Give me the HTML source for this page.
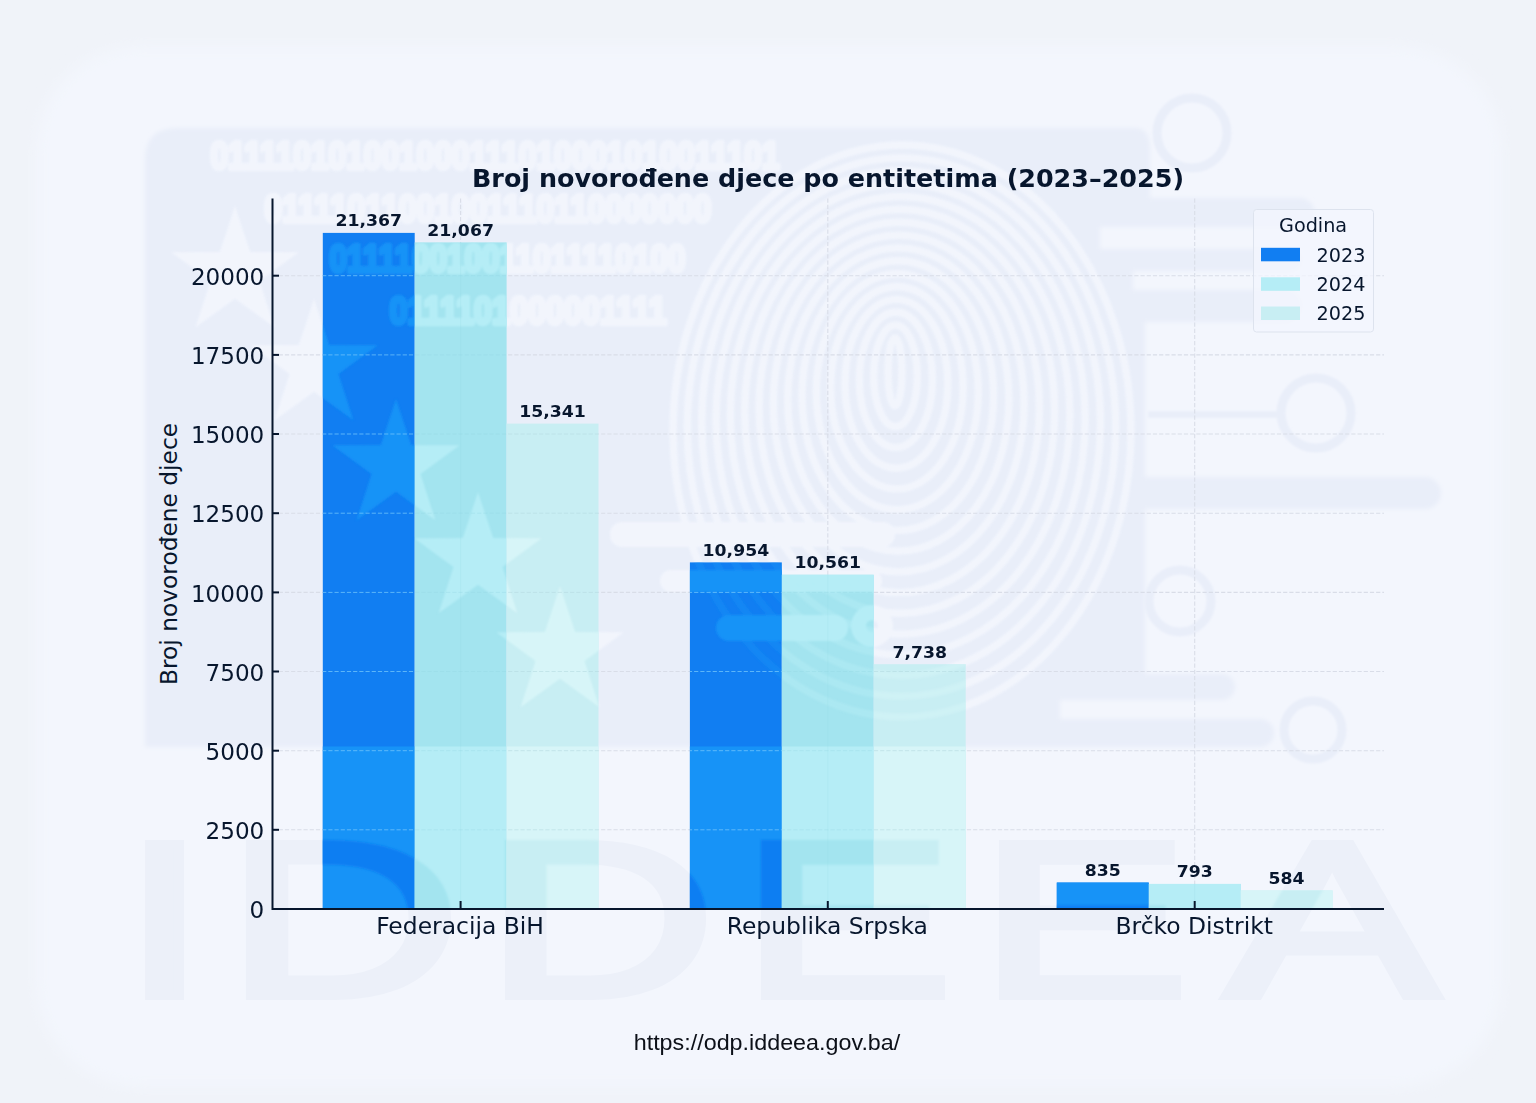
<!DOCTYPE html>
<html lang="bs"><head><meta charset="utf-8"><title>Broj novorođene djece po entitetima</title>
<style>
html,body{margin:0;padding:0;background:#f0f3f9;}
body{width:1536px;height:1103px;overflow:hidden;}
svg{display:block}
text{font-family:"DejaVu Sans","Liberation Sans",sans-serif;fill:#07162d}
.b{font-weight:bold}
.url{font-family:"Liberation Sans",sans-serif;fill:#0c1018}
.bin text{font-family:"Liberation Sans",sans-serif;font-weight:bold;fill:inherit;stroke:inherit;stroke-width:4.6;stroke-linejoin:round}
.wm text{font-family:"Liberation Sans",sans-serif;fill:inherit;stroke:inherit}
</style></head><body>
<svg width="1536" height="1103" viewBox="0 0 1536 1103">
<defs>
<filter id="blur1" x="-5%" y="-5%" width="110%" height="110%"><feGaussianBlur stdDeviation="0.9"/></filter>
<filter id="blur3" x="-3%" y="-3%" width="106%" height="106%"><feGaussianBlur stdDeviation="2.2"/></filter>
<filter id="blur8" x="-3%" y="-3%" width="106%" height="106%"><feGaussianBlur stdDeviation="7"/></filter>

<clipPath id="cs0">
<rect x="322.8" y="232.9" width="91.9" height="676.1"/>
<rect x="689.9" y="562.4" width="91.9" height="346.6"/>
<rect x="1056.8" y="882.6" width="91.9" height="26.4"/>
</clipPath>
<clipPath id="cs1">
<rect x="414.7" y="242.4" width="91.9" height="666.6"/>
<rect x="781.8" y="574.8" width="91.9" height="334.2"/>
<rect x="1148.8" y="883.9" width="91.9" height="25.1"/>
</clipPath>
<clipPath id="cs2">
<rect x="506.6" y="423.6" width="91.9" height="485.4"/>
<rect x="873.8" y="664.2" width="91.9" height="244.8"/>
<rect x="1240.7" y="890.5" width="91.9" height="18.5"/>
</clipPath>
<g id="lightfill">
<polygon points="235.0,206.0 250.2,252.1 298.7,252.3 259.5,281.0 274.4,327.2 235.0,298.8 195.6,327.2 210.5,281.0 171.3,252.3 219.8,252.1"/>
<polygon points="314.0,299.0 329.2,345.1 377.7,345.3 338.5,374.0 353.4,420.2 314.0,391.8 274.6,420.2 289.5,374.0 250.3,345.3 298.8,345.1"/>
<polygon points="396.0,399.0 411.2,445.1 459.7,445.3 420.5,474.0 435.4,520.2 396.0,491.8 356.6,520.2 371.5,474.0 332.3,445.3 380.8,445.1"/>
<polygon points="478.0,492.0 493.2,538.1 541.7,538.3 502.5,567.0 517.4,613.2 478.0,584.8 438.6,613.2 453.5,567.0 414.3,538.3 462.8,538.1"/>
<polygon points="560.0,586.0 575.2,632.1 623.7,632.3 584.5,661.0 599.4,707.2 560.0,678.8 520.6,707.2 535.5,661.0 496.3,632.3 544.8,632.1"/>
<rect x="610" y="522" width="285" height="25" rx="12"/>
<rect x="660" y="570" width="222" height="22" rx="11"/>
<rect x="716" y="615" width="132" height="26" rx="13"/>
<path fill-rule="evenodd" d="M851 626 a21 21 0 1 0 42 0 a21 21 0 1 0 -42 0 Z M866 626 a6 6 0 1 0 12 0 a6 6 0 1 0 -12 0 Z"/>
</g>
<g id="lightbin" class="bin">
<text x="210.5" y="168.5" font-size="38" textLength="569" lengthAdjust="spacingAndGlyphs">011110101001000111010001010011101</text>
<text x="264.5" y="222" font-size="38" textLength="447" lengthAdjust="spacingAndGlyphs">01111011001001110110000000</text>
<text x="329.5" y="272" font-size="38" textLength="356" lengthAdjust="spacingAndGlyphs">011110010011011110100</text>
<text x="389.5" y="323.5" font-size="38" textLength="277" lengthAdjust="spacingAndGlyphs">0111101000001111</text>
</g>
<g id="lightfp" fill="none" stroke-width="7.4">
<ellipse cx="895.0" cy="372.0" rx="7.0" ry="34.0"/>
<ellipse cx="895.5" cy="375.9" rx="21.8" ry="50.8"/>
<ellipse cx="895.9" cy="379.9" rx="36.6" ry="67.6"/>
<ellipse cx="896.4" cy="383.8" rx="51.4" ry="84.4"/>
<ellipse cx="896.9" cy="387.7" rx="66.2" ry="101.2"/>
<ellipse cx="897.3" cy="391.7" rx="81.0" ry="118.0"/>
<ellipse cx="897.8" cy="395.6" rx="95.8" ry="134.8"/>
<ellipse cx="898.3" cy="399.5" rx="110.6" ry="151.6"/>
<ellipse cx="898.7" cy="403.5" rx="125.4" ry="168.4"/>
<ellipse cx="899.2" cy="407.4" rx="140.2" ry="185.2"/>
<ellipse cx="899.7" cy="411.3" rx="155.0" ry="202.0"/>
<ellipse cx="900.1" cy="415.3" rx="169.8" ry="218.8"/>
<ellipse cx="900.6" cy="419.2" rx="184.6" ry="235.6"/>
<ellipse cx="901.1" cy="423.1" rx="199.4" ry="252.4"/>
<ellipse cx="901.5" cy="427.1" rx="214.2" ry="269.2"/>
<ellipse cx="902.0" cy="431.0" rx="229.0" ry="286.0"/>
</g>
<g id="letters" class="wm" stroke-width="8" stroke-linejoin="miter">
<text transform="translate(122.9 996.0) scale(1.356 1)" font-size="220.9">I</text>
<text transform="translate(225.1 996.0) scale(1.477 1)" font-size="220.9">D</text>
<text transform="translate(484.6 996.0) scale(1.448 1)" font-size="220.9">D</text>
<text transform="translate(740.7 996.0) scale(1.440 1)" font-size="220.9">E</text>
<text transform="translate(978.9 996.0) scale(1.425 1)" font-size="220.9">E</text>
<text transform="translate(1225.7 996.0) scale(1.440 1)" font-size="220.9">A</text>
</g>
</defs>
<rect width="1536" height="1103" fill="#f0f3f9"/>
<rect x="36" y="46" width="1466" height="1041" rx="105" fill="#f3f6fd" filter="url(#blur8)"/>
<g id="watermark">
<path d="M177 128 H1135 Q1150 128 1150 150 V198 H1300 a14 14 0 0 1 0 29 H1100 V249 H1290 a11 11 0 0 1 0 22 H1133 V290 H1285 a16 16 0 0 1 0 32 H1145 V477 H1425 a16 16 0 0 1 0 32 H1145 V674 H1222 a13 13 0 0 1 0 26 H1060 V719 H1260 a14 14 0 0 1 0 28 H145 V160 Q145 128 177 128 Z" fill="#e9eef9" filter="url(#blur3)"/>
<g fill="none" stroke="#e9eef9" stroke-width="9" filter="url(#blur1)">
<circle cx="1192" cy="133" r="35"/>
<circle cx="1316" cy="413" r="35"/>
<circle cx="1180" cy="601" r="31"/>
<circle cx="1313" cy="730" r="29"/>
<path d="M1148 414.5 H1282" stroke-width="6.5"/>
</g>
<use href="#letters" fill="#ecf0f9" stroke="#ecf0f9"/>
<g filter="url(#blur1)" opacity="0.9">
<use href="#lightfill" fill="#f3f6fd"/>
<use href="#lightbin" fill="#f3f6fd" stroke="#f3f6fd"/>
<use href="#lightfp" stroke="#f3f6fd"/>
</g>
</g>
<g stroke="#d9dde8" stroke-width="1.1" stroke-dasharray="4.2 2">
<line x1="272.5" x2="1384" y1="829.8" y2="829.8"/>
<line x1="272.5" x2="1384" y1="750.7" y2="750.7"/>
<line x1="272.5" x2="1384" y1="671.5" y2="671.5"/>
<line x1="272.5" x2="1384" y1="592.4" y2="592.4"/>
<line x1="272.5" x2="1384" y1="513.2" y2="513.2"/>
<line x1="272.5" x2="1384" y1="434.0" y2="434.0"/>
<line x1="272.5" x2="1384" y1="354.9" y2="354.9"/>
<line x1="272.5" x2="1384" y1="275.7" y2="275.7"/>
<line x1="460.6" x2="460.6" y1="198.5" y2="909.0"/>
<line x1="827.8" x2="827.8" y1="198.5" y2="909.0"/>
<line x1="1194.7" x2="1194.7" y1="198.5" y2="909.0"/>
</g>
<g id="bars">
<rect x="322.8" y="232.9" width="91.9" height="676.1" fill="#117ef2"/>
<rect x="414.7" y="242.4" width="91.9" height="666.6" fill="#a3e4ef"/>
<rect x="506.6" y="423.6" width="91.9" height="485.4" fill="#c8eef3"/>
<rect x="689.9" y="562.4" width="91.9" height="346.6" fill="#117ef2"/>
<rect x="781.8" y="574.8" width="91.9" height="334.2" fill="#a3e4ef"/>
<rect x="873.8" y="664.2" width="91.9" height="244.8" fill="#c8eef3"/>
<rect x="1056.8" y="882.6" width="91.9" height="26.4" fill="#117ef2"/>
<rect x="1148.8" y="883.9" width="91.9" height="25.1" fill="#a3e4ef"/>
<rect x="1240.7" y="890.5" width="91.9" height="18.5" fill="#c8eef3"/>
</g>
<g clip-path="url(#cs0)">
<rect x="0" y="746.5" width="1536" height="356.5" fill="#1793f7"/>
<g filter="url(#blur1)">
<use href="#lightfill" fill="#1793f7"/>
<use href="#lightbin" fill="#1793f7" stroke="#1793f7"/>
<use href="#lightfp" stroke="#1793f7" opacity="0.45"/>
<use href="#letters" fill="#117ef2" stroke="#117ef2"/>
</g>
<g stroke="#6fc3fb" stroke-width="1" stroke-dasharray="4.2 2" opacity="0.8">
<line x1="272.5" x2="1384" y1="829.8" y2="829.8"/>
<line x1="272.5" x2="1384" y1="750.7" y2="750.7"/>
<line x1="272.5" x2="1384" y1="671.5" y2="671.5"/>
<line x1="272.5" x2="1384" y1="592.4" y2="592.4"/>
<line x1="272.5" x2="1384" y1="513.2" y2="513.2"/>
<line x1="272.5" x2="1384" y1="434.0" y2="434.0"/>
<line x1="272.5" x2="1384" y1="354.9" y2="354.9"/>
<line x1="272.5" x2="1384" y1="275.7" y2="275.7"/>
</g>
</g>
<g clip-path="url(#cs1)">
<rect x="0" y="746.5" width="1536" height="356.5" fill="#b5edf6"/>
<g filter="url(#blur1)">
<use href="#lightfill" fill="#b5edf6"/>
<use href="#lightbin" fill="#b5edf6" stroke="#b5edf6"/>
<use href="#lightfp" stroke="#b5edf6" opacity="0.45"/>
<use href="#letters" fill="#a3e4ef" stroke="#a3e4ef"/>
</g>
<g stroke="#93d6e2" stroke-width="1" stroke-dasharray="4.2 2" opacity="0.35">
<line x1="272.5" x2="1384" y1="829.8" y2="829.8"/>
<line x1="272.5" x2="1384" y1="750.7" y2="750.7"/>
<line x1="272.5" x2="1384" y1="671.5" y2="671.5"/>
<line x1="272.5" x2="1384" y1="592.4" y2="592.4"/>
<line x1="272.5" x2="1384" y1="513.2" y2="513.2"/>
<line x1="272.5" x2="1384" y1="434.0" y2="434.0"/>
<line x1="272.5" x2="1384" y1="354.9" y2="354.9"/>
<line x1="272.5" x2="1384" y1="275.7" y2="275.7"/>
</g>
</g>
<g clip-path="url(#cs2)">
<rect x="0" y="746.5" width="1536" height="356.5" fill="#d7f5f8"/>
<g filter="url(#blur1)">
<use href="#lightfill" fill="#d7f5f8"/>
<use href="#lightbin" fill="#d7f5f8" stroke="#d7f5f8"/>
<use href="#lightfp" stroke="#d7f5f8" opacity="0.45"/>
<use href="#letters" fill="#c8eef3" stroke="#c8eef3"/>
</g>
<g stroke="#b3d9df" stroke-width="1" stroke-dasharray="4.2 2" opacity="0.55">
<line x1="272.5" x2="1384" y1="829.8" y2="829.8"/>
<line x1="272.5" x2="1384" y1="750.7" y2="750.7"/>
<line x1="272.5" x2="1384" y1="671.5" y2="671.5"/>
<line x1="272.5" x2="1384" y1="592.4" y2="592.4"/>
<line x1="272.5" x2="1384" y1="513.2" y2="513.2"/>
<line x1="272.5" x2="1384" y1="434.0" y2="434.0"/>
<line x1="272.5" x2="1384" y1="354.9" y2="354.9"/>
<line x1="272.5" x2="1384" y1="275.7" y2="275.7"/>
</g>
</g>
<g stroke="#8fd3e0" stroke-width="1" opacity="0.18">
<line x1="460.6" x2="460.6" y1="241.9" y2="909.0"/>
<line x1="827.8" x2="827.8" y1="574.6" y2="909.0"/>
<line x1="1194.7" x2="1194.7" y1="883.9" y2="909.0"/>
</g>
<g stroke="#07162d" stroke-width="2" fill="none">
<path d="M272.5 198.5 V909.0 H1384"/>
<line x1="272.5" x2="279.0" y1="909.0" y2="909.0"/>
<line x1="272.5" x2="279.0" y1="829.8" y2="829.8"/>
<line x1="272.5" x2="279.0" y1="750.7" y2="750.7"/>
<line x1="272.5" x2="279.0" y1="671.5" y2="671.5"/>
<line x1="272.5" x2="279.0" y1="592.4" y2="592.4"/>
<line x1="272.5" x2="279.0" y1="513.2" y2="513.2"/>
<line x1="272.5" x2="279.0" y1="434.0" y2="434.0"/>
<line x1="272.5" x2="279.0" y1="354.9" y2="354.9"/>
<line x1="272.5" x2="279.0" y1="275.7" y2="275.7"/>
<line x1="460.6" x2="460.6" y1="901.0" y2="909.0"/>
<line x1="827.8" x2="827.8" y1="901.0" y2="909.0"/>
<line x1="1194.7" x2="1194.7" y1="901.0" y2="909.0"/>
</g>
<text x="249.6" y="918.1" font-size="22.2" textLength="14.7" lengthAdjust="spacingAndGlyphs">0</text>
<text x="205.5" y="838.9" font-size="22.2" textLength="58.8" lengthAdjust="spacingAndGlyphs">2500</text>
<text x="205.5" y="759.8" font-size="22.2" textLength="58.8" lengthAdjust="spacingAndGlyphs">5000</text>
<text x="205.5" y="680.6" font-size="22.2" textLength="58.8" lengthAdjust="spacingAndGlyphs">7500</text>
<text x="190.9" y="601.5" font-size="22.2" textLength="73.4" lengthAdjust="spacingAndGlyphs">10000</text>
<text x="190.9" y="522.3" font-size="22.2" textLength="73.4" lengthAdjust="spacingAndGlyphs">12500</text>
<text x="190.9" y="443.1" font-size="22.2" textLength="73.4" lengthAdjust="spacingAndGlyphs">15000</text>
<text x="190.9" y="364.0" font-size="22.2" textLength="73.4" lengthAdjust="spacingAndGlyphs">17500</text>
<text x="190.9" y="284.8" font-size="22.2" textLength="73.4" lengthAdjust="spacingAndGlyphs">20000</text>
<text x="376.2" y="934.0" font-size="22.2" textLength="167.7" lengthAdjust="spacingAndGlyphs">Federacija BiH</text>
<text x="726.7" y="934.0" font-size="22.2" textLength="201.2" lengthAdjust="spacingAndGlyphs">Republika Srpska</text>
<text x="1115.5" y="934.0" font-size="22.2" textLength="157.4" lengthAdjust="spacingAndGlyphs">Brčko Distrikt</text>
<text class="b" x="335.4" y="226.4" font-size="16.2" textLength="66.6" lengthAdjust="spacingAndGlyphs">21,367</text>
<text class="b" x="427.3" y="235.9" font-size="16.2" textLength="66.6" lengthAdjust="spacingAndGlyphs">21,067</text>
<text class="b" x="519.2" y="417.1" font-size="16.2" textLength="66.6" lengthAdjust="spacingAndGlyphs">15,341</text>
<text class="b" x="702.6" y="555.9" font-size="16.2" textLength="66.6" lengthAdjust="spacingAndGlyphs">10,954</text>
<text class="b" x="794.5" y="568.3" font-size="16.2" textLength="66.6" lengthAdjust="spacingAndGlyphs">10,561</text>
<text class="b" x="892.4" y="657.7" font-size="16.2" textLength="54.6" lengthAdjust="spacingAndGlyphs">7,738</text>
<text class="b" x="1084.8" y="876.1" font-size="16.2" textLength="36.0" lengthAdjust="spacingAndGlyphs">835</text>
<text class="b" x="1176.7" y="877.4" font-size="16.2" textLength="36.0" lengthAdjust="spacingAndGlyphs">793</text>
<text class="b" x="1268.6" y="884.0" font-size="16.2" textLength="36.0" lengthAdjust="spacingAndGlyphs">584</text>
<text class="b" x="472.0" y="187.0" font-size="23.9" textLength="712.0" lengthAdjust="spacingAndGlyphs">Broj novorođene djece po entitetima (2023–2025)</text>
<g transform="translate(177 554) rotate(-90)"><text x="-131.0" y="0.0" font-size="22.2" textLength="262.1" lengthAdjust="spacingAndGlyphs">Broj novorođene djece</text></g>
<rect x="1253.5" y="209.5" width="120" height="122.5" rx="3" fill="#f3f6fd" fill-opacity="0.75" stroke="#dde3ee" stroke-width="1"/>
<text x="1279.0" y="232.0" font-size="19.2" textLength="68.1" lengthAdjust="spacingAndGlyphs" fill="#15243b">Godina</text>
<rect x="1261" y="247.8" width="39" height="13.5" fill="#117ef2"/>
<text x="1316.5" y="261.6" font-size="19.2" textLength="48.9" lengthAdjust="spacingAndGlyphs" fill="#15243b">2023</text>
<rect x="1261" y="277.3" width="39" height="13.5" fill="#b5edf6"/>
<text x="1316.5" y="291.1" font-size="19.2" textLength="48.9" lengthAdjust="spacingAndGlyphs" fill="#15243b">2024</text>
<rect x="1261" y="306.5" width="39" height="13.5" fill="#c8eef3"/>
<text x="1316.5" y="320.3" font-size="19.2" textLength="48.9" lengthAdjust="spacingAndGlyphs" fill="#15243b">2025</text>
<text class="url" x="633.7" y="1050.3" font-size="21.5" textLength="266.6" lengthAdjust="spacingAndGlyphs">https://odp.iddeea.gov.ba/</text>
</svg></body></html>
